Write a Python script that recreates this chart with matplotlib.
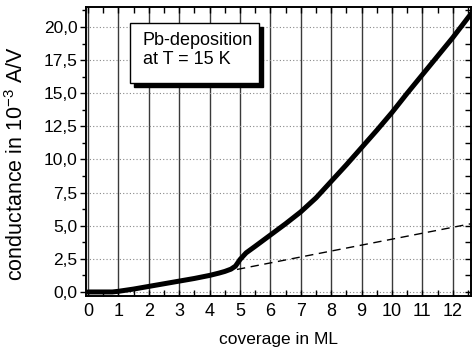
import matplotlib
matplotlib.use("Agg")
import matplotlib.pyplot as plt
from matplotlib.ticker import MultipleLocator, FuncFormatter
from matplotlib.patches import Rectangle

plt.rcParams['font.family'] = ['Liberation Sans', 'DejaVu Sans']
plt.rcParams['mathtext.fontset'] = 'custom'
plt.rcParams['mathtext.rm'] = 'Liberation Sans'
plt.rcParams['mathtext.it'] = 'Liberation Sans'
plt.rcParams['mathtext.default'] = 'rm'

# data
coverage = [0.0, 0.3, 0.6, 0.8, 1.0, 1.5, 2.0, 2.5, 3.0, 3.5, 4.0, 4.3, 4.5, 4.7, 4.85,
            5.0, 5.2, 5.5, 6.0, 6.5, 7.0, 7.5, 8.0, 8.5, 9.0, 9.5, 10.0, 10.5,
            11.0, 11.5, 12.0, 12.6]
conductance = [0.0, 0.0, 0.0, 0.0, 0.05, 0.22, 0.42, 0.62, 0.82, 1.02, 1.25, 1.42, 1.55,
               1.72, 1.95, 2.45, 2.95, 3.45, 4.3, 5.15, 6.05, 7.1, 8.35, 9.6, 10.9,
               12.2, 13.55, 15.0, 16.4, 17.8, 19.2, 21.0]
fit_x = [4.9, 12.6]
fit_y = [1.7, 5.15]

xticks = list(range(0, 13))
yticks = [0.0, 2.5, 5.0, 7.5, 10.0, 12.5, 15.0, 17.5, 20.0]

fig = plt.figure(figsize=(4.72, 3.54), dpi=100)
ax = fig.add_axes([0.182, 0.164, 0.816, 0.816])

ax.set_xlim(-0.07, 12.6)
ax.set_ylim(-0.3, 21.5)

# grid
for xv in xticks:
    ax.axvline(xv, color='#3a3a3a', lw=1.0, zorder=1)
for yv in yticks:
    ax.axhline(yv, color='#888888', lw=0.8, ls=(0, (1, 2)), zorder=1)

ax.plot(fit_x, fit_y, color='black', lw=1.0, ls=(0, (6, 4)), zorder=2)
ax.plot(coverage, conductance, color='black', lw=3.6, solid_capstyle='round', zorder=3)

ax.set_xticks(xticks)
ax.set_yticks(yticks)
ax.xaxis.set_minor_locator(MultipleLocator(0.5))
ax.yaxis.set_minor_locator(MultipleLocator(1.25))
ax.yaxis.set_major_formatter(FuncFormatter(lambda v, p: f"{v:.1f}".replace('.', ',')))

ax.tick_params(axis='x', which='both', direction='in', top=True, bottom=True,
               labelsize=13, pad=5)
ax.tick_params(axis='x', which='major', length=4, width=1)
ax.tick_params(axis='x', which='minor', length=4, width=1)
ax.tick_params(axis='y', which='both', direction='out', left=True, right=False,
               labelsize=12.5, pad=2)
ax.tick_params(axis='y', which='major', length=4, width=1)
ax.tick_params(axis='y', which='minor', length=3, width=1)

# right-side inward ticks
axr = ax.twinx()
axr.set_ylim(ax.get_ylim())
axr.set_yticks(yticks)
axr.yaxis.set_minor_locator(MultipleLocator(1.25))
axr.tick_params(axis='y', which='both', direction='in', labelright=False, length=4, width=1)

for a in (ax, axr):
    for s in a.spines.values():
        s.set_linewidth(1.2)
        s.set_color('black')

ax.set_xlabel('coverage in ML', fontsize=12.5, labelpad=9)
ax.set_ylabel(r'conductance in 10$^{-3}$ A/V', fontsize=15.5)
ax.yaxis.set_label_coords(-0.15, 0.46)

# text box with shadow
x0, y0 = 0.114, 0.737
w, h = 0.335, 0.208
shadow = Rectangle((x0 + 0.0104, y0 - 0.0138), w, h, transform=ax.transAxes,
                   facecolor='black', edgecolor='black', zorder=4)
box = Rectangle((x0, y0), w, h, transform=ax.transAxes,
                facecolor='white', edgecolor='black', lw=1.0, zorder=5)
ax.add_patch(shadow)
ax.add_patch(box)
ax.text(0.148, 0.915, 'Pb-deposition\nat T = 15 K', transform=ax.transAxes,
        fontsize=13, va='top', ha='left', zorder=6, linespacing=1.2)

fig.savefig('out.png', dpi=100)
